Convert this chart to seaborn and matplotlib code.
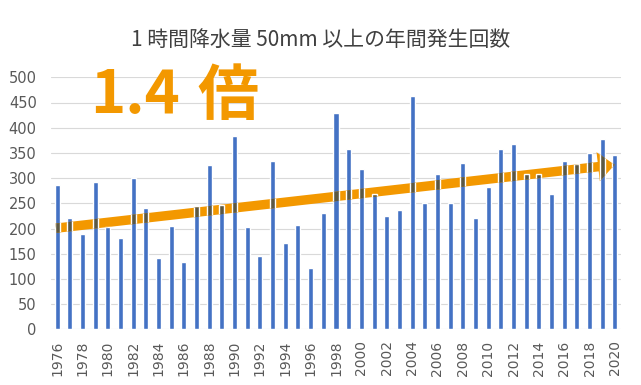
import numpy as np
import pandas as pd
import seaborn as sns
import matplotlib.pyplot as plt
from matplotlib.patches import FancyArrowPatch, ArrowStyle

years = list(range(1976, 2021))
counts = [286, 220, 189, 293, 203, 182, 300, 241, 142, 204,
          134, 245, 326, 247, 383, 202, 145, 333, 171, 206,
          122, 230, 430, 357, 318, 268, 225, 236, 463, 251,
          309, 251, 329, 220, 282, 358, 367, 308, 309, 269,
          334, 327, 350, 377, 345]
trend_start = 200   # trend value at 1976
trend_end = 327     # trend value at 2020
yticks = list(range(0, 501, 50))

title = '1 時間降水量 50mm 以上の年間発生回数'
ratio_label = '1.4'
ratio_unit = '倍'

bar_color = '#4472C4'
orange = '#F39800'
overlap = '#5C5843'
gray = '#595959'

df = pd.DataFrame({'year': [str(y) for y in years], 'count': counts})

sns.set_theme(style='white')
plt.rcParams['font.family'] = ['Noto Sans CJK JP', 'DejaVu Sans']

fig = plt.figure(figsize=(6.41, 3.85), dpi=100)
ax = fig.add_axes([50.7 / 641, 1 - 329.3 / 385, 570.6 / 641, 252 / 385])

sns.barplot(data=df, x='year', y='count', color=bar_color, width=0.4,
            saturation=1, ax=ax, zorder=2)

# trend arrow
arrow = FancyArrowPatch((-0.3, trend_start), (44.2, trend_end),
                        arrowstyle=ArrowStyle('simple', head_length=1.2,
                                              head_width=2.1, tail_width=0.68),
                        mutation_scale=10, color=orange, lw=0, zorder=3)
ax.add_patch(arrow)

# darker overlap where bars cross the arrow
sns.barplot(data=df, x='year', y='count', color=overlap, width=0.4,
            saturation=1, ax=ax, zorder=4)
for bar in ax.containers[1]:
    bar.set_clip_path(arrow)

ax.set_xlim(-0.5, len(years) - 0.5)
ax.set_ylim(0, 500)
ax.set_yticks(yticks)
ax.set_xticks(range(0, len(years), 2))
ax.set_xticklabels([str(y) for y in years[::2]], rotation=90)
ax.tick_params(axis='y', labelsize=10.5, colors=gray, pad=10, length=0)
ax.tick_params(axis='x', labelsize=10, colors=gray, pad=8, length=0)
for lab in ax.get_xticklabels() + ax.get_yticklabels():
    lab.set_family('DejaVu Sans')
ax.set_xlabel('')
ax.set_ylabel('')
ax.grid(axis='y', color='#D9D9D9', lw=0.8, zorder=0)
ax.set_axisbelow(True)
for s in ax.spines.values():
    s.set_visible(False)

fig.text(0.5, 1 - 40 / 385, title, ha='center', va='center',
         fontsize=15, color='#404040')
fig.text(135 / 641, 1 - 96 / 385, ratio_label, ha='center', va='center',
         fontsize=43, fontweight='bold', color=orange)
fig.text(228 / 641, 1 - 97 / 385, ratio_unit, ha='center', va='center',
         fontsize=44, fontweight='bold', color=orange)

fig.savefig('out.png', dpi=100)
